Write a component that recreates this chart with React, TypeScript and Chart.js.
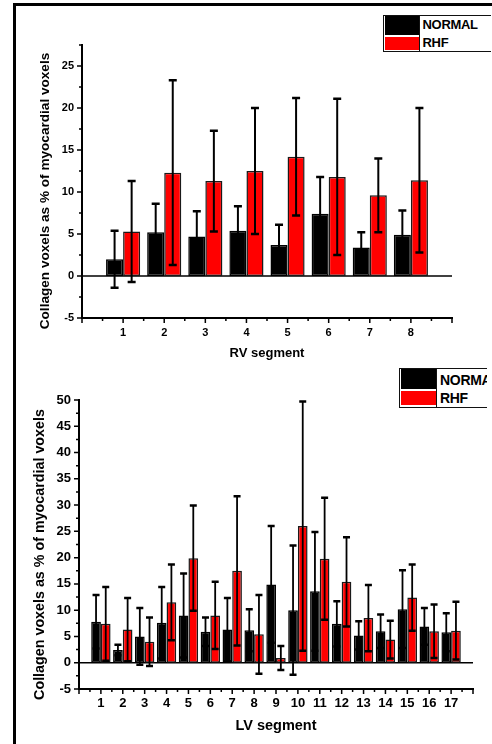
import React, { useEffect, useRef } from "react";
import { Chart, registerables } from "chart.js";

Chart.register(...registerables);

const FONT = "'Liberation Sans', Arial, Helvetica, sans-serif";

// ---------- RV (top chart) ----------
const rvSegments = ["1", "2", "3", "4", "5", "6", "7", "8"];
const rvNormal = [2.0, 5.2, 4.7, 5.4, 3.7, 7.4, 3.4, 4.9];
const rvNormalSD = [3.4, 3.4, 3.0, 2.9, 2.4, 4.4, 1.8, 2.9];
const rvRhf = [5.3, 12.3, 11.3, 12.5, 14.2, 11.8, 9.6, 11.4];
const rvRhfSD = [6.0, 11.0, 6.0, 7.5, 7.0, 9.3, 4.4, 8.6];
const rvYTicks = [-5, 0, 5, 10, 15, 20, 25];

// ---------- LV (bottom chart) ----------
const lvSegments = ["1", "2", "3", "4", "5", "6", "7", "8", "9", "10", "11", "12", "13", "14", "15", "16", "17"];
const lvNormal = [7.8, 2.4, 5.0, 7.6, 9.0, 5.9, 6.3, 6.2, 14.9, 10.0, 13.6, 7.4, 5.2, 6.0, 10.2, 6.9, 5.8];
const lvNormalSD = [5.1, 1.0, 5.4, 6.8, 8.0, 2.7, 6.0, 4.0, 11.1, 12.3, 11.3, 4.3, 2.7, 3.2, 7.4, 3.5, 3.6];
const lvRhf = [7.4, 6.3, 4.0, 11.5, 19.9, 9.0, 17.5, 5.4, 0.9, 26.0, 19.8, 15.4, 8.5, 4.4, 12.4, 6.0, 6.1];
const lvRhfSD = [7.0, 6.0, 4.6, 7.2, 10.0, 6.4, 14.2, 7.5, 2.3, 23.7, 11.6, 8.5, 6.3, 3.6, 6.3, 5.1, 5.5];
const lvYTicks = [-5, 0, 5, 10, 15, 20, 25, 30, 35, 40, 45, 50];

const seriesNames = ["NORMAL", "RHF"];
const seriesColors = ["#000000", "#ff0000"];
const yTitleText = "Collagen voxels as % of myocardial voxels";

const pad = (a: (number | string)[]) => [null, ...a, null];

const decorPlugin = {
  id: "decor",
  beforeDatasetsDraw(chart: any, _a: any, o: any) {
    const { ctx, chartArea, scales } = chart;
    const y0 = scales.y.getPixelForValue(0);
    ctx.save();
    ctx.strokeStyle = "#000";
    ctx.lineWidth = o.zeroWidth;
    ctx.beginPath();
    ctx.moveTo(chartArea.left, y0);
    ctx.lineTo(chartArea.right, y0);
    ctx.stroke();
    ctx.restore();
  },
  afterDatasetsDraw(chart: any, _a: any, o: any) {
    const { ctx, scales } = chart;
    const ys = scales.y;
    ctx.save();
    ctx.strokeStyle = "#000";
    chart.data.datasets.forEach((ds: any, i: number) => {
      const meta = chart.getDatasetMeta(i);
      meta.data.forEach((bar: any, j: number) => {
        const v = ds.data[j];
        const e = ds.errors[j];
        if (v == null || e == null) return;
        const yt = ys.getPixelForValue(v + e);
        const yb = ys.getPixelForValue(v - e);
        const x = bar.x;
        ctx.lineWidth = o.lineWidth;
        ctx.beginPath();
        ctx.moveTo(x, yt);
        ctx.lineTo(x, yb);
        ctx.stroke();
        ctx.lineWidth = o.capThick;
        ctx.beginPath();
        ctx.moveTo(x - o.capW / 2, yt);
        ctx.lineTo(x + o.capW / 2, yt);
        ctx.moveTo(x - o.capW / 2, yb);
        ctx.lineTo(x + o.capW / 2, yb);
        ctx.stroke();
      });
    });
    ctx.restore();
  },
  afterDraw(chart: any, _a: any, o: any) {
    const { ctx, chartArea, scales } = chart;
    const xs = scales.x;
    const ys = scales.y;
    ctx.save();
    ctx.strokeStyle = "#000";
    ctx.lineWidth = 1.5;
    ctx.beginPath();
    const ax = chartArea.left;
    ys.ticks.forEach((t: any) => {
      const p = ys.getPixelForValue(t.value);
      ctx.moveTo(ax - 5, p);
      ctx.lineTo(ax, p);
    });
    for (let v = ys.min + o.yStep / 2; v <= ys.max + 1e-6; v += o.yStep) {
      const p = ys.getPixelForValue(v);
      ctx.moveTo(ax - 3, p);
      ctx.lineTo(ax, p);
    }
    const ay = chartArea.bottom;
    const n = chart.data.labels.length;
    for (let i = 0; i < n; i++) {
      const p = xs.getPixelForValue(i);
      ctx.moveTo(p, ay);
      ctx.lineTo(p, ay + 5);
      if (i < n - 1) {
        const m = (p + xs.getPixelForValue(i + 1)) / 2;
        ctx.moveTo(m, ay);
        ctx.lineTo(m, ay + 3);
      }
    }
    ctx.stroke();
    ctx.fillStyle = "#000";
    ctx.font = `bold ${o.titleSize}px ${FONT}`;
    ctx.textAlign = "center";
    ctx.textBaseline = "middle";
    ctx.translate(o.titleX, o.titleY);
    ctx.rotate(-Math.PI / 2);
    ctx.fillText(yTitleText, 0, 0);
    ctx.restore();
  },
};

function makeConfig(p: any) {
  return {
    type: "bar",
    data: {
      labels: pad(p.segments).map((s) => (s == null ? "" : s)),
      datasets: [
        {
          label: seriesNames[0],
          data: pad(p.normal),
          errors: pad(p.normalSD),
          backgroundColor: seriesColors[0],
          borderColor: "#000",
          borderWidth: 1.5,
          borderSkipped: false,
        },
        {
          label: seriesNames[1],
          data: pad(p.rhf),
          errors: pad(p.rhfSD),
          backgroundColor: seriesColors[1],
          borderColor: "#1a1a1a",
          borderWidth: 1.5,
          borderSkipped: false,
        },
      ],
    },
    options: {
      responsive: false,
      animation: false,
      devicePixelRatio: 1,
      categoryPercentage: p.catPct,
      barPercentage: 1,
      layout: { padding: p.padding },
      plugins: {
        legend: { display: false },
        tooltip: { enabled: false },
        decor: p.decor,
      },
      scales: {
        x: {
          type: "category",
          offset: false,
          grid: { display: false, drawTicks: false },
          border: { display: true, color: "#000", width: 2 },
          ticks: {
            autoSkip: false,
            maxRotation: 0,
            color: "#000",
            padding: p.xTickPad,
            font: { family: FONT, size: p.tickSize, weight: "bold" },
          },
          title: {
            display: true,
            text: p.xTitle,
            color: "#000",
            font: { family: FONT, size: p.xTitleSize, weight: "bold", lineHeight: 1.2 },
            padding: { top: 0, bottom: p.xTitlePad },
          },
          afterFit: (s: any) => {
            s.height = p.xHeight;
          },
        },
        y: {
          min: p.yMin,
          max: p.yMax,
          grid: { display: false, drawTicks: false },
          border: { display: true, color: "#000", width: 2 },
          afterBuildTicks: (s: any) => {
            s.ticks = p.yTicks.map((v: number) => ({ value: v }));
          },
          ticks: {
            color: "#000",
            padding: 8,
            font: { family: FONT, size: p.tickSize, weight: "bold" },
          },
          afterFit: (s: any) => {
            s.width = p.yWidth;
          },
        },
      },
    },
    plugins: [decorPlugin],
  };
}

function ChartBox({ config, top }: { config: any; top: number }) {
  const ref = useRef<HTMLCanvasElement | null>(null);
  useEffect(() => {
    if (!ref.current) return;
    const c = new Chart(ref.current, config);
    return () => c.destroy();
  }, [config]);
  return (
    <canvas
      ref={ref}
      width={492}
      height={372}
      style={{ position: "absolute", left: 0, top, width: 492, height: 372, display: "block" }}
    />
  );
}

function Legend(p: any) {
  return (
    <div
      style={{
        position: "absolute",
        left: p.left,
        top: p.top,
        width: p.width,
        height: p.height,
        boxSizing: "border-box",
        borderTop: "1.5px solid #111",
        borderLeft: "1.5px solid #111",
        borderBottom: "1.5px solid #111",
        overflow: "hidden",
        background: "#fff",
      }}
    >
      <div style={{ position: "absolute", left: 0.5, top: 0, width: p.swW, height: p.blackH, background: seriesColors[0] }} />
      <div style={{ position: "absolute", left: 0.5, top: p.redTop, width: p.swW, height: p.redH, background: seriesColors[1] }} />
      <div style={{ position: "absolute", left: p.swW + 0.5, top: 0, width: 1.5, height: "100%", background: "#111" }} />
      {seriesNames.map((n, i) => (
        <div
          key={n}
          style={{
            position: "absolute",
            left: p.textLeft,
            top: p.rowCenters[i] - 10,
            height: 20,
            lineHeight: "20px",
            fontFamily: FONT,
            fontWeight: "bold",
            fontSize: p.fontSize,
            color: "#000",
            whiteSpace: "nowrap",
            letterSpacing: -0.3,
          }}
        >
          {n}
        </div>
      ))}
    </div>
  );
}

const topConfig = makeConfig({
  segments: rvSegments,
  normal: rvNormal,
  normalSD: rvNormalSD,
  rhf: rvRhf,
  rhfSD: rvRhfSD,
  yTicks: rvYTicks,
  yMin: -5,
  yMax: 27.5,
  catPct: 0.83,
  padding: { top: 45, right: 40, bottom: 0, left: 0 },
  yWidth: 82,
  xHeight: 54,
  tickSize: 11,
  xTickPad: 8,
  xTitle: "RV segment",
  xTitleSize: 13,
  xTitlePad: 11,
  decor: { zeroWidth: 1.5, lineWidth: 2, capW: 8, capThick: 2.5, yStep: 5, titleSize: 13.6, titleX: 45, titleY: 191 },
});

const bottomConfig = makeConfig({
  segments: lvSegments,
  normal: lvNormal,
  normalSD: lvNormalSD,
  rhf: lvRhf,
  rhfSD: lvRhfSD,
  yTicks: lvYTicks,
  yMin: -5,
  yMax: 50,
  catPct: 0.885,
  padding: { top: 28, right: 19, bottom: 0, left: 0 },
  yWidth: 79,
  xHeight: 55,
  tickSize: 13,
  xTickPad: 7,
  xTitle: "LV segment",
  xTitleSize: 14.5,
  xTitlePad: 9,
  decor: { zeroWidth: 1.5, lineWidth: 1.8, capW: 7, capThick: 2.5, yStep: 5, titleSize: 14.3, titleX: 40, titleY: 182.5 },
});

export default function App() {
  return (
    <div
      style={{
        position: "absolute",
        left: 0,
        top: 0,
        width: 492,
        height: 744,
        overflow: "hidden",
        background: "#fff",
      }}
    >
      <div style={{ position: "absolute", left: 13, top: 3, width: 3, height: 741, background: "#000" }} />
      <div style={{ position: "absolute", left: 13, top: 3, width: 479, height: 3, background: "#000" }} />
      <ChartBox config={topConfig} top={0} />
      <ChartBox config={bottomConfig} top={372} />
      <Legend
        left={383}
        top={15}
        width={108}
        height={37}
        swW={34}
        blackH={19}
        redTop={20.5}
        redH={13.5}
        textLeft={38.5}
        rowCenters={[9, 26.5]}
        fontSize={13}
      />
      <Legend
        left={399}
        top={368}
        width={88}
        height={40}
        swW={35}
        blackH={19.5}
        redTop={22}
        redH={14}
        textLeft={40}
        rowCenters={[10.5, 28.5]}
        fontSize={14}
      />
    </div>
  );
}
